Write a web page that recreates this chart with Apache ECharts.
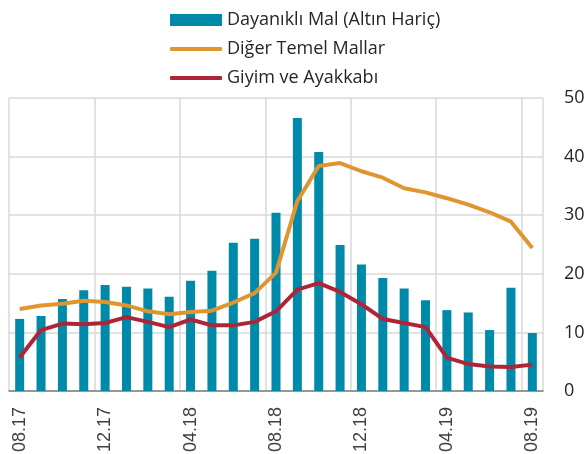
<!DOCTYPE html>
<html><head><meta charset="utf-8">
<script src="https://cdn.jsdelivr.net/npm/echarts@6/dist/echarts.min.js"></script>
<style>html,body{margin:0;padding:0;background:#fff}#c{width:585px;height:454px}</style>
</head><body><div id="c"></div>
<script>
const categories = ['08.17','09.17','10.17','11.17','12.17','01.18','02.18','03.18','04.18','05.18','06.18','07.18','08.18','09.18','10.18','11.18','12.18','01.19','02.19','03.19','04.19','05.19','06.19','07.19','08.19'];
const durable = [12.3,12.8,15.7,17.2,18.1,17.8,17.5,16.1,18.8,20.5,25.3,26.0,30.4,46.6,40.8,24.9,21.6,19.3,17.5,15.5,13.8,13.4,10.4,17.6,9.9];
const otherCore = [14.0,14.6,14.9,15.4,15.2,14.6,13.6,13.1,13.5,13.7,15.1,16.7,20.2,32.4,38.4,38.9,37.5,36.4,34.6,33.9,32.9,31.8,30.5,28.9,24.4];
const clothing = [5.7,10.4,11.5,11.4,11.6,12.6,11.8,10.9,12.2,11.2,11.2,11.8,13.6,17.3,18.4,16.9,14.8,12.3,11.6,10.9,5.7,4.6,4.2,4.1,4.5];
const names = ['Dayanıklı Mal (Altın Hariç)','Diğer Temel Mallar','Giyim ve Ayakkabı'];
const colors = ['#008AAA','#E0962F','#B02437'];
const legendFont = {fontFamily:'Open Sans', fontSize:18, color:'#262626'};
const chart = echarts.init(document.getElementById('c'));
chart.setOption({
  animation:false,
  grid:{left:9,right:42,top:98,bottom:63,containLabel:false,outerBoundsMode:'none'},
  legend:[
    {data:[{name:names[0],icon:'rect'}],left:165,top:6,itemWidth:52,itemHeight:12,textStyle:legendFont,selectedMode:false},
    {data:[{name:names[1],icon:'roundRect'}],left:165,top:35,itemWidth:52,itemHeight:4,textStyle:legendFont,selectedMode:false},
    {data:[{name:names[2],icon:'roundRect'}],left:165,top:64,itemWidth:52,itemHeight:4,textStyle:legendFont,selectedMode:false}
  ],
  xAxis:{type:'category',data:categories,boundaryGap:true,
    axisLine:{lineStyle:{color:'#7F7F7F',width:1.5}},
    axisTick:{interval:3,length:5,lineStyle:{color:'#7F7F7F',width:1.5}},
    axisLabel:{interval:3,rotate:90,margin:16,fontFamily:'Liberation Sans',fontSize:18,color:'#404040'},
    splitLine:{show:true,interval:3,lineStyle:{color:'#D9D9D9',width:1.5}}},
  yAxis:{type:'value',position:'right',min:0,max:50,interval:10,
    axisLine:{show:false},axisTick:{show:false},
    axisLabel:{margin:21,fontFamily:'Open Sans',fontSize:18,color:'#262626',align:'left'},
    splitLine:{lineStyle:{color:'#D9D9D9',width:1.5}}},
  series:[
    {name:names[0],type:'bar',data:durable,barWidth:9,itemStyle:{color:colors[0]}},
    {name:names[1],type:'line',data:otherCore,symbol:'none',lineStyle:{color:colors[1],width:4},itemStyle:{color:colors[1]}},
    {name:names[2],type:'line',data:clothing,symbol:'none',lineStyle:{color:colors[2],width:4},itemStyle:{color:colors[2]}}
  ]
});
</script></body></html>
